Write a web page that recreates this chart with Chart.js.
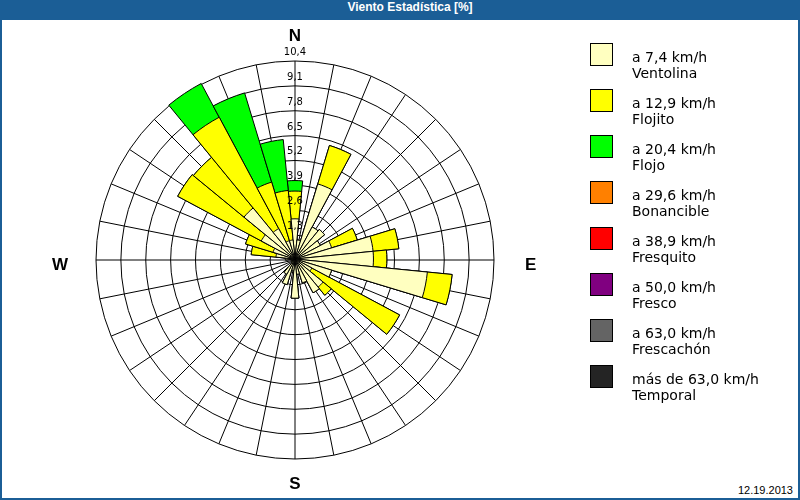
<!DOCTYPE html>
<html>
<head>
<meta charset="utf-8">
<script src="https://cdn.jsdelivr.net/npm/chart.js@4.4.1/dist/chart.umd.min.js"></script>
<style>
  html, body { margin: 0; padding: 0; }
  body { width: 800px; height: 500px; position: relative; overflow: hidden; background: #fff; }
  #frame { position: absolute; left: 0; top: 0; width: 796px; height: 478px; border: 2px solid #1b5e96; border-top: 20px solid #1b5e96; background: #fff; }
  #title { position: absolute; left: 0; top: 0; width: 780px; padding-left: 20px; height: 20px; line-height: 20px; text-align: center; color: #fff; font: bold 12px 'Liberation Sans', sans-serif; }
  #chart { position: absolute; left: 2px; top: 20px; }
  .box { position: absolute; left: 590px; width: 21px; height: 21px; border: 1px solid #000; }
  .txt { position: absolute; left: 632px; font: 14px 'DejaVu Sans', sans-serif; line-height: 16.8px; color: #000; white-space: nowrap; }
  #date { position: absolute; right: 7px; top: 484px; font: 11px 'Liberation Sans', sans-serif; color: #000; }
</style>
</head>
<body>
<div id="frame"></div>
<div id="title">Viento Estadística [%]</div>
<canvas id="chart" width="590" height="478"></canvas>
<div id="legend"></div>
<div id="date">12.19.2013</div>
<script>
// 32 sectores, en sentido horario desde el norte
const dirLabels = ['N','','','','','','','','E','','','','','','','','S','','','','','','','','W','','','','','','',''];

// frecuencia [%] por clase de velocidad
const ventolina = [2.1, 1.0, 4.1, 1.9, 2.0, 1.5, 2.0, 4.1, 4.1, 6.95, 2.0, 1.0, 1.9, 2.0, 1.3, 0.8,
                   2.05, 0.6, 1.4, 0.9, 0.2, 0.2, 0.2, 0.2, 0.5, 1.0, 1.2, 2.0, 3.45, 1.8, 1.0, 1.0];
const flojito   = [1.45, 0, 2.1, 0, 0, 0, 1.4, 1.35, 0.7, 1.3, 0, 5.2, 0.55, 0, 0, 0,
                   0, 0, 0, 0, 0, 0, 0, 0, 0, 1.3, 1.5, 4.95, 3.42, 6.6, 3.2, 2.6];
const flojo     = [0.55, 0, 0, 0, 0, 0, 0, 0, 0, 0, 0, 0, 0, 0, 0, 0,
                   0, 0, 0, 0, 0, 0, 0, 0, 0, 0, 0, 0, 0, 2.0, 4.87, 2.67];

const classLimits = ['a 7,4 km/h', 'a 12,9 km/h', 'a 20,4 km/h', 'a 29,6 km/h', 'a 38,9 km/h', 'a 50,0 km/h', 'a 63,0 km/h', 'más de 63,0 km/h'];
const classNames = ['Ventolina', 'Flojito', 'Flojo', 'Bonancible', 'Fresquito', 'Fresco', 'Frescachón', 'Temporal'];
const classColors = ['#ffffc0', '#ffff00', '#00ff00', '#ff8000', '#ff0000', '#800080', '#646464', '#242424'];

// anillos de la rejilla
const ringValues = [1.3, 2.6, 3.9, 5.2, 6.5, 7.8, 9.1, 10.4];
const scaleMax = 10.4;
const scaleStep = 1.3;

// leyenda
const legend = document.getElementById('legend');
classNames.forEach((name, i) => {
  const box = document.createElement('div');
  box.className = 'box';
  box.style.top = (43 + 46 * i) + 'px';
  box.style.background = classColors[i];
  const txt = document.createElement('div');
  txt.className = 'txt';
  txt.style.top = (48.5 + 46 * i) + 'px';
  txt.innerHTML = classLimits[i] + '<br>' + name;
  legend.appendChild(box);
  legend.appendChild(txt);
});

// barras apiladas: cada clase se dibuja como acumulado, la menor encima
const series = [ventolina, flojito, flojo];
let acc = new Array(dirLabels.length).fill(0);
const datasets = series.map((s, k) => {
  acc = acc.map((v, i) => v + s[i]);
  return {
    label: classNames[k],
    data: acc.slice(),
    backgroundColor: classColors[k],
    borderColor: '#000',
    borderWidth: 1
  };
});

const plFont = { family: 'Liberation Sans', size: 17, weight: 'bold', lineHeight: 10 / 17 };
const tickFont = { family: 'DejaVu Sans', size: 10 };
const fmt = v => v.toFixed(1).replace('.', ',');
const plText = l => (l === 'E' || l === 'W') ? ['', l] : l;   // E y W algo por debajo del eje
const plPad = c => (c.index === 8 ? 24 : c.index === 24 ? 21 : 13);
const half = 180 / dirLabels.length;
const labelLift = 0.45;   // etiquetas de anillo justo encima de la línea

// todas las escalas llevan las mismas etiquetas para que encajen igual
const pointLabelsHidden = { display: true, color: 'transparent', font: plFont, callback: plText };

new Chart(document.getElementById('chart'), {
  type: 'polarArea',
  data: { labels: dirLabels, datasets: datasets },
  options: {
    responsive: false,
    animation: false,
    devicePixelRatio: 1,
    layout: { padding: { left: 0, right: 4, top: 11, bottom: 9 } },
    plugins: { legend: { display: false }, tooltip: { enabled: false } },
    scales: {
      // escala de datos: girada medio sector para centrar las barras en los radios
      r: {
        min: 0, max: scaleMax, startAngle: -half,
        ticks: { stepSize: scaleStep, color: 'transparent', showLabelBackdrop: false, font: tickFont },
        grid: { display: false },
        angleLines: { display: false },
        pointLabels: { ...pointLabelsHidden, padding: c => (c.index % 16 === 8 ? 25 : 14) }
      },
      // rejilla visible
      rGrid: {
        type: 'radialLinear', axis: 'r',
        min: 0, max: scaleMax, startAngle: 0,
        ticks: { stepSize: scaleStep, color: 'transparent', showLabelBackdrop: false, font: tickFont },
        grid: { circular: true, color: '#000', lineWidth: 1 },
        angleLines: { display: true, color: '#000', lineWidth: 1 },
        pointLabels: { display: true, color: '#000', font: plFont, callback: plText, padding: plPad }
      },
      // textos de los anillos, encima de las barras
      rTicks: {
        type: 'radialLinear', axis: 'r',
        min: -labelLift, max: scaleMax - labelLift, startAngle: 0,
        afterBuildTicks: s => { s.ticks = ringValues.map(v => ({ value: v })); },
        ticks: { color: '#000', showLabelBackdrop: false, font: tickFont, z: 1, callback: fmt },
        grid: { display: false },
        angleLines: { display: false },
        pointLabels: { ...pointLabelsHidden, padding: plPad }
      }
    }
  }
});
</script>
</body>
</html>
